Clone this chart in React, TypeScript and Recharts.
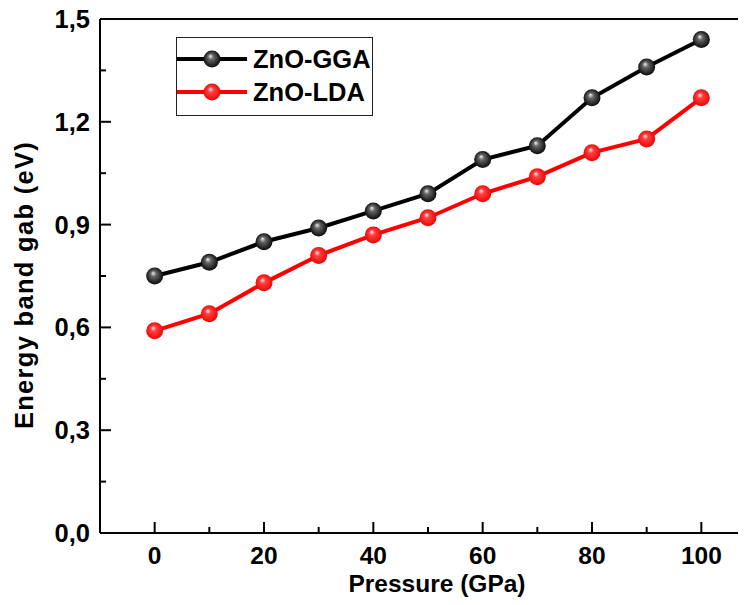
import React from 'react';
import { LineChart, Line, XAxis, YAxis, Customized } from 'recharts';

const pressures = [0, 10, 20, 30, 40, 50, 60, 70, 80, 90, 100];
const ggaValues = [0.75, 0.79, 0.85, 0.89, 0.94, 0.99, 1.09, 1.13, 1.27, 1.36, 1.44];
const ldaValues = [0.59, 0.64, 0.73, 0.81, 0.87, 0.92, 0.99, 1.04, 1.11, 1.15, 1.27];
const xTicks = [0, 10, 20, 30, 40, 50, 60, 70, 80, 90, 100, 110];
const yTicks = [0, 0.15, 0.3, 0.45, 0.6, 0.75, 0.9, 1.05, 1.2, 1.35, 1.5];
const seriesNames = ['ZnO-GGA', 'ZnO-LDA'];
const seriesColors = ['#000000', '#ff0000'];
const xTitle = 'Pressure (GPa)';
const yTitle = 'Energy band gab (eV)';

const data = pressures.map((p, i) => ({ p, gga: ggaValues[i], lda: ldaValues[i] }));

const FONT = '"Liberation Sans", Arial, sans-serif';
const FS = 25.5;
const W = 790;
const H = 605;
const M = { top: 19, right: 34, bottom: 0, left: 0 };
const Y_W = 100;
const X_H = 72;
const PL = M.left + Y_W;
const PT = M.top;
const PR = W - M.right;
const PB = H - M.bottom - X_H;

const XTick = (props: any) => {
  const { x, y, payload } = props;
  const v = payload.value;
  const major = v % 20 === 0;
  return (
    <g>
      <line x1={x} x2={x} y1={y} y2={y - (major ? 11 : 6)} stroke="#000" strokeWidth={2} />
      {major && (
        <text x={x} y={y + 31} textAnchor="middle" fontFamily={FONT} fontWeight="bold" fontSize={24.5} fill="#000">
          {v}
        </text>
      )}
    </g>
  );
};

const YTick = (props: any) => {
  const { x, y, payload } = props;
  const v = payload.value;
  const major = Math.round(v * 100) % 30 === 0;
  return (
    <g>
      <line x1={x} x2={x + (major ? 11 : 6)} y1={y} y2={y} stroke="#000" strokeWidth={2} />
      {major && (
        <text x={x - 10} y={y + 9} textAnchor="end" fontFamily={FONT} fontWeight="bold" fontSize={FS} fill="#000">
          {v.toFixed(1).replace('.', ',')}
        </text>
      )}
    </g>
  );
};

const Gradients = () => (
  <defs>
    <radialGradient id="grad-black" cx="50%" cy="50%" r="55%" fx="40%" fy="32%">
      <stop offset="0%" stopColor="#f0f0f0" />
      <stop offset="30%" stopColor="#666" />
      <stop offset="100%" stopColor="#000" />
    </radialGradient>
    <radialGradient id="grad-red" cx="50%" cy="50%" r="55%" fx="40%" fy="32%">
      <stop offset="0%" stopColor="#fff0f0" />
      <stop offset="30%" stopColor="#ff4040" />
      <stop offset="100%" stopColor="#e80000" />
    </radialGradient>
  </defs>
);

const Ball = (id: string) => (props: any) => {
  const { cx, cy, index } = props;
  if (cx == null || cy == null) return null;
  return <circle key={index} cx={cx} cy={cy} r={8.5} fill={`url(#grad-${id})`} />;
};

const Decor = () => {
  const ids = ['black', 'red'];
  const lx = 176;
  const ly = 37;
  return (
    <g>
      <line x1={PL} x2={PR} y1={PT} y2={PT} stroke="#000" strokeWidth={2} />
      <line x1={PR} x2={PR} y1={PT} y2={PB} stroke="#000" strokeWidth={2} />
      <rect x={lx + 0.5} y={ly + 0.5} width={196} height={78} fill="#fff" stroke="#222" strokeWidth={1} />
      {seriesNames.map((n, i) => {
        const yy = ly + 22 + i * 33;
        return (
          <g key={n}>
            <line x1={lx + 1} x2={lx + 71} y1={yy} y2={yy} stroke={seriesColors[i]} strokeWidth={4} />
            <circle cx={lx + 36} cy={yy} r={8.5} fill={`url(#grad-${ids[i]})`} />
            <text x={lx + 77} y={yy + 9} fontFamily={FONT} fontWeight="bold" fontSize={FS} fill="#000">
              {n}
            </text>
          </g>
        );
      })}
      <text x={437} y={592} textAnchor="middle" fontFamily={FONT} fontWeight="bold" fontSize={24.5} fill="#000">
        {xTitle}
      </text>
      <text
        x={33}
        y={285}
        transform="rotate(-90 33 285)"
        textAnchor="middle"
        fontFamily={FONT}
        fontWeight="bold"
        fontSize={FS}
        letterSpacing={1.3}
        fill="#000"
      >
        {yTitle}
      </text>
    </g>
  );
};

export default function App() {
  return (
    <div style={{ margin: -8, width: 746, height: 605, overflow: 'hidden', background: '#fff' }}>
      <LineChart width={W} height={H} data={data} margin={M}>
        <Gradients />
        <XAxis
          dataKey="p"
          type="number"
          domain={[-10, 110]}
          ticks={xTicks}
          interval={0}
          height={X_H}
          tickSize={0}
          tickMargin={0}
          tickLine={false}
          axisLine={{ stroke: '#000', strokeWidth: 2 }}
          tick={<XTick />}
        />
        <YAxis
          type="number"
          domain={[0, 1.5]}
          ticks={yTicks}
          interval={0}
          width={Y_W}
          tickSize={0}
          tickMargin={0}
          tickLine={false}
          axisLine={{ stroke: '#000', strokeWidth: 2 }}
          tick={<YTick />}
        />
        <Line
          dataKey="gga"
          name={seriesNames[0]}
          stroke={seriesColors[0]}
          strokeWidth={4}
          dot={Ball('black')}
          activeDot={false}
          isAnimationActive={false}
        />
        <Line
          dataKey="lda"
          name={seriesNames[1]}
          stroke={seriesColors[1]}
          strokeWidth={4}
          dot={Ball('red')}
          activeDot={false}
          isAnimationActive={false}
        />
        <Customized component={Decor} />
      </LineChart>
    </div>
  );
}
